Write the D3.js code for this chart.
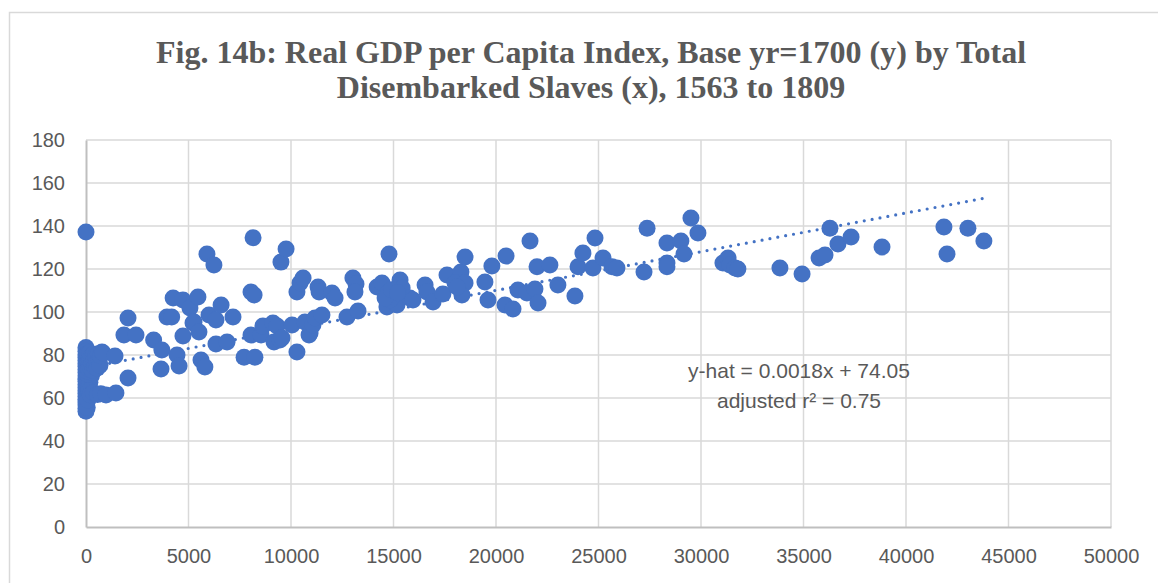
<!DOCTYPE html>
<html>
<head>
<meta charset="utf-8">
<script src="https://cdn.jsdelivr.net/npm/d3@7"></script>
<style>
  body { margin: 0; background: #fff; }
  svg { display: block; }
</style>
</head>
<body>
<div id="myPlot"></div>
<script>
// chart size
const width = 1158;
const height = 583;
const margin = {top: 140, right: 47, bottom: 56, left: 86};

// data: total disembarked slaves (x), GDP index (y)
const slaves = [
  0, 0, 0, 0, 0, 0, 0, 0, 0, 0, 0, 0, 0, 0, 0, 0, 0, 0, 0, 0, 0, 0, 0,
  40, 25, 70, 60, 110, 130, 90,
  15, 60, 120, 150, 190, 230, 260, 90, 300,
  20, 35, 55, 30, 90, 110, 130, 170, 200, 180, 260, 290, 320, 360, 390, 420, 470, 510, 540, 600, 640, 680, 700, 780, 830,
  150, 200, 350, 560, 720, 975, 1460, 1415,
  1850, 2050, 2440, 2050,
  3300, 3700, 3660,
  3950, 4180, 4250, 4730, 5070,
  4730, 4440, 4540,
  5220, 5460, 5270, 5510,
  5900, 6240,
  5610, 5800,
  6000, 6340, 6590, 7170,
  6340, 6880,
  8050, 8200, 8150,
  7710, 8240,
  8050, 8540, 8630, 9120, 9170,
  9320, 9460, 9560,
  9510, 9760,
  10290, 10050, 10680, 10880, 10930, 11070, 11170, 11510,
  10290, 10440, 10590,
  11320, 11370, 12000, 12150,
  12730, 13270,
  13020, 13170, 13120,
  14780,
  14200, 14440, 15320, 15420, 14730, 15070, 14680, 15170, 15800, 15950, 14830, 14590, 14900, 15200,
  16540, 16630, 16930, 17410,
  17610, 18290, 18490, 18000, 18490, 18340, 18100,
  19460, 19610, 19800, 20490, 20440, 20830, 21070,
  21660, 22000, 22630, 21510, 21900, 22050, 23020, 23850,
  24000, 24240, 24830, 24730, 25220, 25660, 25900,
  27370, 27220, 28340, 28340, 28340, 29020, 29170, 29510, 29850,
  31070, 31320, 31410, 31660, 31800,
  33850, 34930, 35760, 36050, 36290, 36680, 37320, 38830,
  41850, 42000, 43020, 43800
];
const gdpIndex = [
  137.2, 83.5, 81.8, 80.2, 78.9, 77.6, 76.1, 74.8, 73.2, 71.9, 70.4, 69.1, 67.8, 66.3, 64.9, 63.5, 62.2, 60.8, 59.4, 58.1, 56.7, 55.2, 53.8,
  57.9, 63.8, 60.6, 55.6, 62.7, 64.6, 59.1,
  68.7, 67.4, 66.2, 69.8, 67.3, 71.5, 70.2, 71.0, 71.9,
  79.6, 75.3, 77.8, 72.6, 80.4, 76.9, 73.5, 78.2, 74.7, 81.0, 79.1, 75.8, 72.9, 80.3, 77.2, 74.4, 79.4, 76.4, 73.8, 80.6, 77.5, 75.2, 79.6, 81.4, 80.9,
  63.2, 61.5, 62.4, 61.6, 62.0, 61.4, 62.3, 79.5,
  89.3, 97.2, 89.3, 69.3,
  87.0, 82.3, 73.5,
  97.7, 97.7, 106.5, 105.6, 101.9,
  88.8, 80.0, 74.9,
  94.9, 107.0, 95.4, 90.7,
  127.0, 121.9,
  77.7, 74.4,
  98.6, 96.3, 103.3, 97.7,
  85.1, 86.0,
  109.3, 107.9, 134.5,
  79.0, 79.0,
  89.3, 89.3, 93.5, 94.9, 86.0,
  93.5, 87.0, 87.9,
  123.2, 129.3,
  81.4, 94.0, 95.4, 89.3, 90.2, 94.0, 97.2, 98.6,
  109.3, 113.5, 115.8,
  111.6, 109.3, 108.8, 106.5,
  97.7, 100.5,
  115.8, 113.0, 109.3,
  127.0,
  111.6, 113.5, 114.9, 111.2, 108.8, 106.5, 102.3, 103.3, 106.5, 105.6, 105.6, 106.5, 110.4, 108.9,
  112.6, 109.3, 104.6, 108.4,
  117.2, 118.6, 125.6, 113.5, 113.5, 107.9, 111.6,
  114.0, 105.6, 121.4, 126.0, 103.3, 101.4, 110.2,
  133.0, 121.0, 121.9, 108.8, 110.7, 104.2, 112.6, 107.4,
  121.0, 127.4, 134.4, 120.5, 125.1, 121.0, 120.5,
  139.0, 118.6, 132.1, 122.8, 121.0, 133.0, 127.0, 143.7, 136.7,
  122.8, 125.1, 121.9, 120.5, 120.0,
  120.5, 117.7, 125.1, 126.5, 139.0, 131.6, 134.9, 130.2,
  139.5, 127.0, 139.0, 133.0
];

// axes ticks
const xTicks = [0, 5000, 10000, 15000, 20000, 25000, 30000, 35000, 40000, 45000, 50000];
const yTicks = [0, 20, 40, 60, 80, 100, 120, 140, 160, 180];

// fitted trend line shown in the chart
const slope = 0.0018;
const intercept = 74.05;
const titleLines = ["Fig. 14b: Real GDP per Capita Index, Base yr=1700 (y) by Total",
                    "Disembarked Slaves (x), 1563 to 1809"];
const labelLines = ["y-hat = 0.0018x + 74.05", "adjusted r\u00B2 = 0.75"];

const points = slaves.map((s, i) => ({x: s, y: gdpIndex[i]}));

const svg = d3.select("#myPlot")
  .append("svg")
  .attr("width", width)
  .attr("height", height);

// chart frame
svg.append("rect")
  .attr("x", 9.5).attr("y", 12.5)
  .attr("width", width + 20).attr("height", height + 20)
  .attr("fill", "#fff")
  .attr("stroke", "#d9d9d9")
  .attr("stroke-width", 1.5);

// title
svg.append("g").selectAll("text")
  .data(titleLines).enter()
  .append("text")
  .attr("x", 591)
  .attr("y", (d, i) => 63 + i * 35)
  .attr("text-anchor", "middle")
  .style("font-family", "'Liberation Serif', 'Times New Roman', serif")
  .style("font-weight", "bold")
  .style("font-size", "32px")
  .style("fill", "#595959")
  .text(d => d);

const x = d3.scaleLinear()
  .domain([0, 50000])
  .range([margin.left, width - margin.right]);

const y = d3.scaleLinear()
  .domain([0, 180])
  .range([height - margin.bottom, margin.top]);

// grid
const grid = svg.append("g");
grid.selectAll("line.h")
  .data(yTicks.slice(1)).enter()
  .append("line")
  .attr("x1", x(0)).attr("x2", x(50000))
  .attr("y1", d => y(d)).attr("y2", d => y(d))
  .attr("stroke", "#d9d9d9")
  .attr("stroke-width", 1.5);
grid.selectAll("line.v")
  .data(xTicks.slice(1)).enter()
  .append("line")
  .attr("x1", d => x(d)).attr("x2", d => x(d))
  .attr("y1", y(0)).attr("y2", y(180))
  .attr("stroke", "#d9d9d9")
  .attr("stroke-width", 1.5);

// axes
const xAxis = svg.append("g")
  .attr("transform", "translate(0," + y(0) + ")")
  .call(d3.axisBottom(x).tickValues(xTicks).tickSize(0).tickPadding(22).tickFormat(d3.format("d")));
const yAxis = svg.append("g")
  .attr("transform", "translate(" + x(0) + ",0)")
  .call(d3.axisLeft(y).tickValues(yTicks).tickSize(0).tickPadding(21));

[xAxis, yAxis].forEach(function (ax) {
  ax.select(".domain").attr("stroke", "#bfbfbf").attr("stroke-width", 2);
  ax.selectAll("text")
    .style("font-family", "'Liberation Sans', Arial, sans-serif")
    .style("font-size", "20px")
    .style("fill", "#595959");
});

// trend line (dotted)
const trendX = [0, d3.max(slaves)];
svg.append("path")
  .datum(trendX)
  .attr("d", d3.line().x(d => x(d)).y(d => y(intercept + slope * d)))
  .attr("fill", "none")
  .attr("stroke", "#4472c4")
  .attr("stroke-width", 3.2)
  .attr("stroke-linecap", "round")
  .attr("stroke-dasharray", "0 8");

// dots
svg.append("g")
  .selectAll("circle")
  .data(points).enter()
  .append("circle")
  .attr("cx", d => x(d.x))
  .attr("cy", d => y(d.y))
  .attr("r", 8.5)
  .style("fill", "#4472c4");

// equation label
svg.append("g").selectAll("text")
  .data(labelLines).enter()
  .append("text")
  .attr("x", 799)
  .attr("y", (d, i) => 378 + i * 30)
  .attr("text-anchor", "middle")
  .style("font-family", "'Liberation Sans', Arial, sans-serif")
  .style("font-size", "21px")
  .style("fill", "#595959")
  .text(d => d);
</script>
</body>
</html>
